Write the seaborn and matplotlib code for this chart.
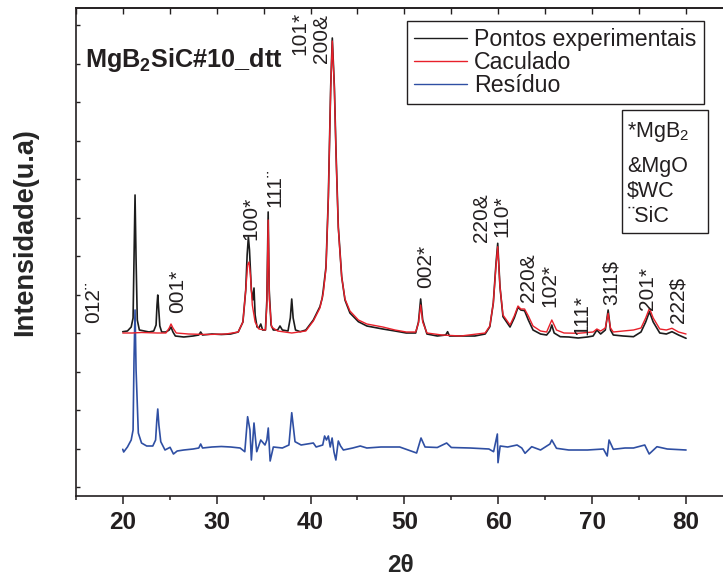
import matplotlib
matplotlib.use("Agg")
import matplotlib.pyplot as plt
from matplotlib.ticker import MultipleLocator, NullFormatter
from matplotlib.transforms import Affine2D
from matplotlib.patches import Rectangle
import pandas as pd
import seaborn as sns

# --- Observed pattern (2theta in degrees, intensity in a.u.) ---
two_theta_obs = [20.0, 20.5, 20.9, 21.1, 21.2, 21.31, 21.42, 21.55, 21.77, 22.3, 22.8, 23.3,
                 23.55, 23.65, 23.73, 23.82, 23.95, 24.15, 24.6, 24.95, 25.14, 25.35, 25.6,
                 26.5, 27.5, 28.1, 28.3, 28.5, 29.5, 30.5, 31.5, 32.3, 32.8, 33.1, 33.25,
                 33.38, 33.5, 33.7, 33.85, 33.98, 34.1, 34.3, 34.5, 34.7, 34.9, 35.2, 35.35,
                 35.49, 35.6, 35.8, 36.04, 36.5, 36.75, 37.0, 37.6, 37.85, 38.0, 38.15, 38.4,
                 38.9, 39.5, 40.3, 41.0, 41.25, 41.36, 41.65, 41.9, 42.15, 42.32, 42.54, 42.72,
                 42.96, 43.32, 43.67, 44.2, 45.1, 46.0, 47.7, 49.0, 50.2, 51.2, 51.5, 51.73,
                 51.95, 52.4, 53.5, 54.4, 54.6, 54.8, 56.0, 57.5, 58.6, 59.1, 59.47, 59.76,
                 59.94, 60.18, 60.5, 61.25, 61.7, 62.1, 62.4, 62.8, 63.2, 63.7, 64.5, 65.15,
                 65.5, 65.7, 65.95, 66.6, 67.5, 68.5, 69.5, 70.1, 70.5, 70.9, 71.4, 71.7,
                 71.95, 72.25, 73.3, 74.4, 75.2, 75.7, 76.1, 76.5, 77.2, 77.9, 78.5, 79.2, 80.0]
intensity_obs = [1643, 1650, 1690, 1780, 2360, 3010, 2360, 1760, 1660, 1650, 1640, 1650,
                 1710, 1910, 2010, 1880, 1700, 1640, 1640, 1660, 1690, 1640, 1600,
                 1590, 1600, 1610, 1640, 1610, 1620, 1615, 1620, 1640, 1740, 2060, 2410,
                 2590, 2460, 2060, 1960, 2080, 1810, 1690, 1680, 1720, 1660, 1660, 1960,
                 2840, 2060, 1710, 1660, 1660, 1700, 1660, 1650, 1780, 1970, 1780, 1660,
                 1643, 1660, 1760, 1893, 1980, 2060, 2293, 2993, 4093, 4580, 4093, 3430,
                 2693, 2193, 1960, 1830, 1743, 1700, 1670, 1650, 1630, 1630, 1740, 1970,
                 1760, 1620, 1600, 1610, 1643, 1600, 1600, 1600, 1620, 1693, 1930, 2330,
                 2527, 2093, 1793, 1690, 1780, 1887, 1860, 1853, 1760, 1660, 1620, 1610,
                 1650, 1710, 1630, 1593, 1590, 1580, 1590, 1600, 1660, 1620, 1660, 1860,
                 1660, 1610, 1600, 1593, 1640, 1740, 1843, 1740, 1630, 1620, 1643, 1610, 1577]

# --- Calculated (refined) pattern ---
two_theta_calc = [20.0, 21.0, 22.0, 23.7, 24.6, 24.95, 25.14, 25.35, 25.7, 27.0, 29.0, 31.0,
                  32.3, 32.8, 33.1, 33.3, 33.45, 33.6, 33.8, 34.1, 34.5, 35.2, 35.35, 35.49,
                  35.62, 35.85, 36.5, 38.0, 39.5, 40.3, 41.0, 41.36, 41.65, 41.9, 42.15, 42.32,
                  42.54, 42.72, 42.96, 43.32, 43.67, 44.2, 45.1, 46.0, 47.7, 49.0, 50.2, 51.2,
                  51.5, 51.73, 51.95, 52.4, 54.0, 56.0, 58.6, 59.1, 59.47, 59.76, 59.94, 60.18,
                  60.5, 61.25, 61.7, 62.1, 62.4, 62.8, 63.2, 63.7, 64.5, 65.15, 65.7, 66.2,
                  67.0, 68.5, 70.1, 70.5, 70.9, 71.4, 71.7, 71.95, 72.25, 73.3, 74.4, 75.2,
                  75.7, 76.1, 76.5, 77.2, 77.9, 78.5, 79.2, 80.0]
intensity_calc = [1630, 1630, 1635, 1630, 1630, 1680, 1720, 1680, 1630, 1620, 1615, 1620,
                  1640, 1740, 2060, 2310, 2340, 2210, 1910, 1740, 1670, 1660, 1910, 2760,
                  1960, 1690, 1650, 1630, 1650, 1750, 1880, 2030, 2280, 2980, 4080, 4550,
                  4080, 3410, 2680, 2190, 1970, 1850, 1760, 1720, 1690, 1660, 1640, 1640,
                  1730, 1910, 1740, 1630, 1610, 1600, 1630, 1700, 1930, 2310, 2493, 2090,
                  1810, 1710, 1800, 1900, 1870, 1870, 1800, 1700, 1650, 1640, 1760, 1660,
                  1630, 1627, 1640, 1670, 1650, 1680, 1827, 1680, 1640, 1650, 1660, 1680,
                  1780, 1877, 1780, 1670, 1660, 1677, 1640, 1620]

# --- Difference curve (observed - calculated) ---
two_theta_res = [20.0, 20.1, 20.5, 20.9, 21.1, 21.2, 21.31, 21.42, 21.66, 22.0, 22.55, 23.2,
                 23.5, 23.63, 23.73, 23.85, 24.05, 24.5, 25.04, 25.4, 25.8, 26.5, 27.5, 28.1,
                 28.3, 28.5, 29.5, 30.5, 31.5, 32.5, 33.0, 33.3, 33.55, 33.7, 33.98, 34.27,
                 34.7, 35.15, 35.35, 35.5, 35.7, 36.04, 37.0, 37.7, 38.0, 38.35, 39.0, 40.3,
                 40.6, 41.3, 41.5, 41.7, 41.9, 42.1, 42.3, 42.5, 42.7, 42.96, 43.2, 43.5,
                 44.5, 45.3, 46.0, 47.5, 49.5, 51.3, 51.77, 52.2, 53.5, 54.5, 55.0, 57.0,
                 59.0, 59.5, 59.9, 59.97, 60.2, 61.0, 62.0, 62.5, 62.85, 63.56, 64.5, 65.5,
                 65.7, 66.2, 67.5, 69.5, 71.2, 71.6, 71.8, 72.25, 73.5, 74.4, 75.6, 76.07,
                 76.9, 78.0, 80.0]
residual = [-13, -40, 10, 80, 180, 880, 1380, 780, 150, 50, 20, 20,
            80, 280, 390, 230, 63, -20, 7, -60, -30, -20, -10, 0,
            40, 0, 10, 15, 10, 0, -37, 313, 180, -120, 250, -37,
            80, 30, 80, 200, -130, 10, 0, 30, 353, 63, 30, 50,
            10, 30, 120, 80, 120, 10, 100, -40, -120, 70, 20, -20,
            0, 20, 0, 10, 10, -50, 100, 10, 5, 50, 5, 0,
            -10, -37, 140, -147, 20, 10, 30, 0, -53, 13, -20, 40,
            80, -3, -20, -20, -10, -80, 80, -13, 0, 0, 30, -60,
            13, -10, -20]
residual_offset = 480

# --- Reflection indices (hkl + phase symbol) ---
peak_labels = ["012¨", "001*", "100*", "111¨", "101*", "200&", "002*", "220&", "110*",
               "220&", "102*", "111*", "311$", "201*", "222$"]
peak_2theta = [16.94, 25.89, 33.66, 36.22, 38.88, 41.12, 52.30, 58.16, 60.40,
               63.17, 65.51, 68.92, 72.01, 75.84, 79.14]
peak_label_base = [1730, 1830, 2560, 2890, 4410, 4330, 2080, 2540, 2590,
                   1940, 1890, 1610, 1910, 1860, 1730]

phase_keys = ["*MgB$_2$", "&MgO", "$WC", "¨SiC"]
series_names = ["Pontos experimentais", "Caculado", "Resíduo"]
sample_name = r"MgB$_\mathbf{2}$SiC#10_dtt"

INK = "#231f20"
C_OBS, C_CALC, C_RES = "#1c1c1c", "#e8202a", "#2f4fa3"

sns.set_theme(style="ticks")
plt.rcParams["font.family"] = ["Liberation Sans", "DejaVu Sans"]
plt.rcParams.update({
    "mathtext.fontset": "custom",
    "mathtext.rm": "Liberation Sans",
    "mathtext.it": "Liberation Sans:italic",
    "mathtext.bf": "Liberation Sans:bold",
    "text.color": INK,
    "axes.edgecolor": INK,
    "xtick.color": INK,
    "ytick.color": INK,
})

W, H = 723, 578
fig = plt.figure(figsize=(W / 100, H / 100), dpi=100)
px = Affine2D().scale(1 / W, -1 / H).translate(0, 1) + fig.transFigure

left, right, top, bottom = 75.8, 733, 8, 496
ax = fig.add_axes([left / W, 1 - bottom / H, (right - left) / W, (bottom - top) / H])

obs = pd.DataFrame({"2theta": two_theta_obs, "I": intensity_obs})
calc = pd.DataFrame({"2theta": two_theta_calc, "I": intensity_calc})
res = pd.DataFrame({"2theta": two_theta_res, "I": [r + residual_offset for r in residual]})

sns.lineplot(data=obs, x="2theta", y="I", color=C_OBS, lw=1.2, ax=ax, label=series_names[0], zorder=2)
sns.lineplot(data=calc, x="2theta", y="I", color=C_CALC, lw=1.0, ax=ax, label=series_names[1], zorder=3)
sns.lineplot(data=res, x="2theta", y="I", color=C_RES, lw=1.2, ax=ax, label=series_names[2], zorder=2)

ax.set_xlim(15, 85)
ax.set_ylim(0, 4880)

for s in ax.spines.values():
    s.set_linewidth(1.2)
ax.spines["right"].set_visible(False)

ax.xaxis.set_major_locator(MultipleLocator(10))
ax.xaxis.set_minor_locator(MultipleLocator(5))
ax.tick_params(axis="x", which="major", direction="out", length=6, width=1.1, pad=5,
               labelsize=17.5)
ax.tick_params(axis="x", which="minor", direction="out", length=3, width=1.1)
for t in ax.get_xticklabels():
    t.set_fontweight("bold")

ax.yaxis.set_major_locator(MultipleLocator(385, offset=90))
ax.yaxis.set_major_formatter(NullFormatter())
ax.tick_params(axis="y", which="major", direction="in", length=3, width=1.0)

top_ax = ax.secondary_xaxis("top")
top_ax.xaxis.set_major_locator(MultipleLocator(5))
top_ax.xaxis.set_major_formatter(NullFormatter())
top_ax.tick_params(direction="in", length=4, width=1.0)
top_ax.spines["top"].set_linewidth(1.2)

ax.set_xlabel("2θ", fontsize=17.5, fontweight="bold", va="center", ha="center")
ax.xaxis.set_label_coords((400 - left) / (right - left), (bottom - 565) / (bottom - top))
ax.set_ylabel("Intensidade(u.a)", fontsize=19.5, fontweight="bold", va="center", ha="center")
ax.yaxis.set_label_coords((25 - left) / (right - left), (bottom - 232) / (bottom - top))

for lab, x, y in zip(peak_labels, peak_2theta, peak_label_base):
    ax.text(x, y, lab, rotation=90, ha="center", va="bottom", fontsize=15, color=INK)

fig.text(85, 67, sample_name, transform=px, fontsize=18.2, fontweight="bold",
         ha="left", va="baseline")

leg = ax.legend(loc="upper left", bbox_to_anchor=(407, 21), bbox_transform=px,
                frameon=True, fancybox=False, shadow=False, borderaxespad=0,
                fontsize=16.7, handlelength=2.3, handletextpad=0.3,
                borderpad=0.3, labelspacing=0.0)
leg.get_frame().set_edgecolor(INK)
leg.get_frame().set_linewidth(1.0)
leg.get_frame().set_alpha(1)
for h in leg.get_lines():
    h.set_linewidth(1.0)

fig.add_artist(Rectangle((622, 110), 86, 123, transform=px, fill=True, facecolor="white",
                         edgecolor=INK, lw=1.0, zorder=4))
for key, yb in zip(phase_keys, [137, 172, 197, 222]):
    fig.text(627, yb, key, transform=px, fontsize=15.5, ha="left", va="baseline", zorder=5)

fig.savefig("out.png", dpi=100)
